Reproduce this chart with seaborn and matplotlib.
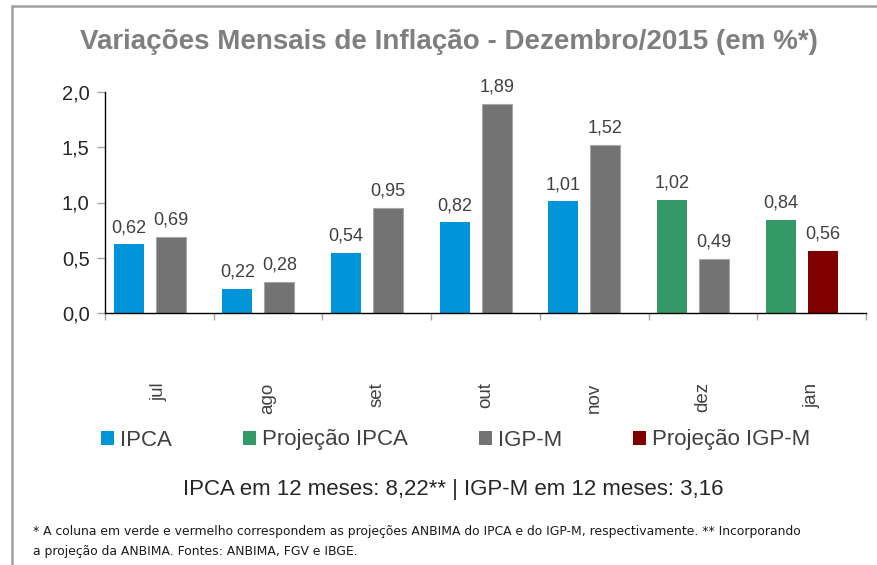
import matplotlib
matplotlib.use("Agg")
import matplotlib.pyplot as plt
from matplotlib.lines import Line2D
from matplotlib.patches import Patch
import seaborn as sns
import pandas as pd

months = ["jul", "ago", "set", "out", "nov", "dez", "jan"]
ipca = [0.62, 0.22, 0.54, 0.82, 1.01, None, None]
proj_ipca = [None, None, None, None, None, 1.02, 0.84]
igpm = [0.69, 0.28, 0.95, 1.89, 1.52, 0.49, None]
proj_igpm = [None, None, None, None, None, None, 0.56]
series_names = ["IPCA", "Projeção IPCA", "IGP-M", "Projeção IGP-M"]
colors = {"IPCA": "#0095D8", "Projeção IPCA": "#339966",
          "IGP-M": "#737373", "Projeção IGP-M": "#800000"}
yticks = [0.0, 0.5, 1.0, 1.5, 2.0]

rows = []
for i, m in enumerate(months):
    for slot, vals, name in [("a", ipca, "IPCA"), ("a", proj_ipca, "Projeção IPCA"),
                             ("b", igpm, "IGP-M"), ("b", proj_igpm, "Projeção IGP-M")]:
        if vals[i] is not None:
            rows.append({"month": m, "slot": slot, "series": name, "value": vals[i]})
df = pd.DataFrame(rows)

sns.set_theme(style="white")
plt.rcParams["font.family"] = ["Liberation Sans", "DejaVu Sans"]

fig = plt.figure(figsize=(8.77, 5.65), dpi=100)
ax = fig.add_axes([105/877, 1-313/565, (866-105)/877, (313-92)/565])

sns.barplot(data=df, x="month", y="value", hue="slot", order=months,
            hue_order=["a", "b"], width=0.773, gap=0.286, dodge=True,
            palette=["#0095D8", "#737373"], legend=False, ax=ax, errorbar=None)

text_col = "#404040"
shift = -0.09
for cont, slot in zip(ax.containers, ["a", "b"]):
    sub = df[df.slot == slot].set_index("month")
    labels = []
    for patch, m in zip(cont.patches, months):
        name = sub.loc[m, "series"]
        patch.set_facecolor(colors[name])
        patch.set_x(patch.get_x() + shift)
        if name == "IGP-M":
            patch.set_edgecolor("#a6a6a6")
            patch.set_linewidth(0.8)
        else:
            patch.set_edgecolor("none")
        labels.append(f"{sub.loc[m, 'value']:.2f}".replace(".", ","))
    ax.bar_label(cont, labels=labels, padding=6, fontsize=13, color=text_col)

ax.set_ylim(0, 2.0)
ax.set_xlim(-0.5, 6.5)
ax.set_yticks(yticks)
ax.set_yticklabels([f"{v:.1f}".replace(".", ",") for v in yticks], fontsize=14.5, color="#262626")
ax.set_xticks(range(len(months)))
ax.set_xticklabels(months, rotation=90, fontsize=13.5, color=text_col)
ax.set_xticks([i - 0.5 for i in range(len(months) + 1)], minor=True)
ax.tick_params(axis="x", which="major", length=0, pad=50)
ax.tick_params(axis="x", which="minor", length=5, color="#a6a6a6", width=1, bottom=True)
ax.tick_params(axis="y", length=6, color="#a6a6a6", width=1, left=True, pad=5)
ax.set_xlabel("")
ax.set_ylabel("")
for s in ["top", "right"]:
    ax.spines[s].set_visible(False)
for s in ["left", "bottom"]:
    ax.spines[s].set_color("black")
    ax.spines[s].set_linewidth(1)

fig.text(0.512, 1-42/565, "Variações Mensais de Inflação - Dezembro/2015 (em %*)",
         ha="center", va="center", fontsize=20, fontweight="bold", color="#7f7f7f")

handles = [Patch(facecolor=colors[n], edgecolor="none") for n in series_names]
fig.legend(handles, series_names, loc="center left", bbox_to_anchor=(101/877, 1-440/565),
           ncol=4, frameon=False, fontsize=16, handlelength=0.6, handleheight=0.6,
           handletextpad=0.25, columnspacing=3.2, labelcolor=text_col, borderaxespad=0,
           borderpad=0)

fig.text(453/877, 1-490/565, "IPCA em 12 meses: 8,22** | IGP-M em 12 meses: 3,16",
         ha="center", va="center", fontsize=16, color="#262626")

fig.text(33/877, 1-532/565,
         "* A coluna em verde e vermelho correspondem as projeções ANBIMA do IPCA e do IGP-M, respectivamente. ** Incorporando",
         ha="left", va="center", fontsize=8.9, color="#1a1a1a", family=["DejaVu Sans"])
fig.text(33/877, 1-551/565, "a projeção da ANBIMA. Fontes: ANBIMA, FGV e IBGE.",
         ha="left", va="center", fontsize=8.9, color="#1a1a1a", family=["DejaVu Sans"])

fig.add_artist(Line2D([12/877, 1], [1-6/565, 1-6/565], color="#a0a0a0", lw=1.8))
fig.add_artist(Line2D([12/877, 12/877], [0, 1-6/565], color="#a0a0a0", lw=1.8))

fig.savefig("out.png", dpi=100)
